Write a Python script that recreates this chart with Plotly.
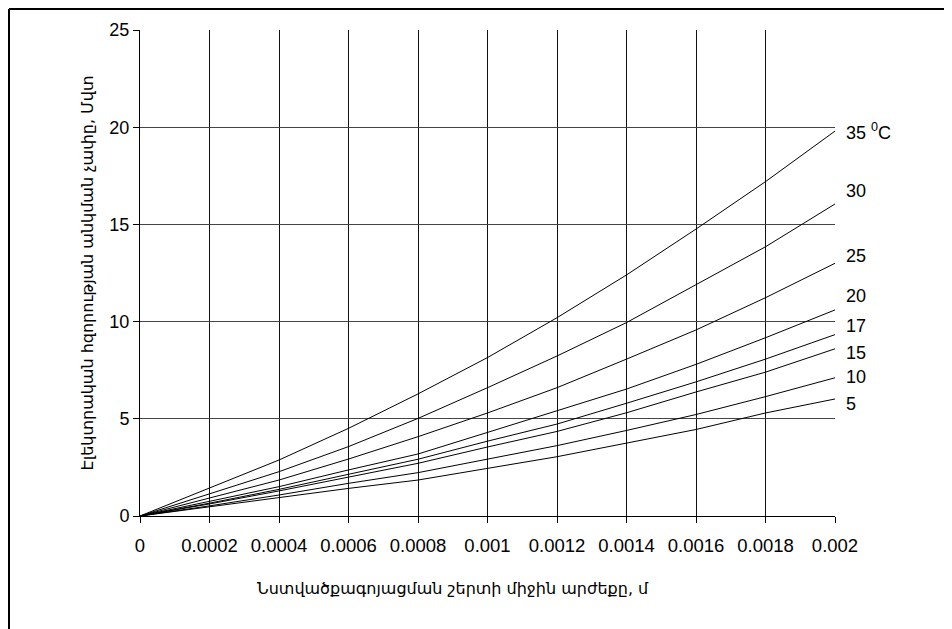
import plotly.graph_objects as go

x_vals = [0, 0.0002, 0.0004, 0.0006, 0.0008, 0.001, 0.0012, 0.0014, 0.0016, 0.0018, 0.002]

temps = ["35", "30", "25", "20", "17", "15", "10", "5"]
s35 = [0, 1.42, 2.88, 4.51, 6.28, 8.15, 10.2, 12.4, 14.76, 17.2, 19.8]
s30 = [0, 1.13, 2.28, 3.57, 5.02, 6.6, 8.23, 9.95, 11.88, 13.85, 16.05]
s25 = [0, 0.91, 1.85, 2.93, 4.08, 5.3, 6.6, 8.07, 9.57, 11.23, 13.0]
s20 = [0, 0.74, 1.51, 2.37, 3.19, 4.3, 5.4, 6.53, 7.8, 9.17, 10.6]
s17 = [0, 0.66, 1.37, 2.14, 2.92, 3.85, 4.73, 5.8, 6.9, 8.07, 9.33]
s15 = [0, 0.62, 1.29, 1.99, 2.71, 3.55, 4.35, 5.31, 6.38, 7.4, 8.6]
s10 = [0, 0.52, 1.08, 1.68, 2.23, 2.93, 3.62, 4.4, 5.22, 6.14, 7.11]
s5 = [0, 0.47, 0.96, 1.42, 1.85, 2.45, 3.05, 3.75, 4.45, 5.3, 6.02]
series = [s35, s30, s25, s20, s17, s15, s10, s5]

label_texts = ["35 <sup>0</sup>C", "30", "25", "20", "17", "15", "10", "5"]
label_y = [19.8, 16.7, 13.4, 11.3, 9.77, 8.38, 7.15, 5.76]

x_ticks = [0, 0.0002, 0.0004, 0.0006, 0.0008, 0.001, 0.0012, 0.0014, 0.0016, 0.0018, 0.002]
x_ticklabels = ["0", "0.0002", "0.0004", "0.0006", "0.0008", "0.001", "0.0012", "0.0014", "0.0016", "0.0018", "0.002"]
y_ticks = [0, 5, 10, 15, 20, 25]

x_title = "Նստվածքագոյացման շերտի միջին արժեքը, մ"
y_title = "Էլեկտրական հզորության անկման չափը, Մվտ"

FONT = "Liberation Sans, Arial, DejaVu Sans, sans-serif"
TFONT = "DejaVu Sans, sans-serif"

W, H = 952, 629
L, T, PW, PH = 132, 22, 695, 486
R = W - L - PW
B = H - T - PH

fig = go.Figure()
for t, s in zip(temps, series):
    fig.add_trace(go.Scatter(x=x_vals, y=s, mode="lines", name=t,
                             line=dict(color="black", width=1), showlegend=False))

for txt, yy in zip(label_texts, label_y):
    fig.add_annotation(x=1.0, xref="paper", y=yy, yref="y", text=txt,
                       showarrow=False, xanchor="left", xshift=9,
                       font=dict(size=18, color="black", family=FONT))

# x-axis title, centred on the chart area as in the reference
fig.add_annotation(x=(453 - 140) / PW, xref="paper", y=-(588 - 516) / PH, yref="paper",
                   text=x_title, showarrow=False, xanchor="center", yanchor="middle",
                   font=dict(size=16, color="black", family=TFONT))

# outer frame (top and left edges)
px_left = -(L - 1) / PW
py_top = 1 + (T - 1) / PH
fig.add_shape(type="line", xref="paper", yref="paper",
              x0=px_left, x1=1.25, y0=py_top, y1=py_top, line=dict(color="black", width=2))
fig.add_shape(type="line", xref="paper", yref="paper",
              x0=px_left, x1=px_left, y0=-0.3, y1=py_top, line=dict(color="black", width=2))

fig.update_layout(
    width=W, height=H,
    margin=dict(l=L, r=R, t=T, b=B),
    paper_bgcolor="white", plot_bgcolor="white",
    font=dict(family=FONT, color="black", size=18),
)
fig.update_xaxes(
    range=[0, 0.002], tickvals=x_ticks, ticktext=x_ticklabels,
    showgrid=True, gridcolor="#111", gridwidth=1,
    showline=True, linecolor="black", linewidth=1, mirror=False,
    ticks="outside", ticklen=6, tickcolor="black", ticklabelstandoff=7,
    zeroline=False, tickfont=dict(size=18.5),
)
fig.update_yaxes(
    range=[0, 25], tickvals=y_ticks,
    showgrid=True, gridcolor="#444", gridwidth=1,
    showline=True, linecolor="black", linewidth=1,
    ticks="outside", ticklen=6, tickcolor="black",
    zeroline=False, tickfont=dict(size=18),
    title=dict(text=y_title, font=dict(size=16, family=TFONT), standoff=11),
)

fig.write_html("out.html")
